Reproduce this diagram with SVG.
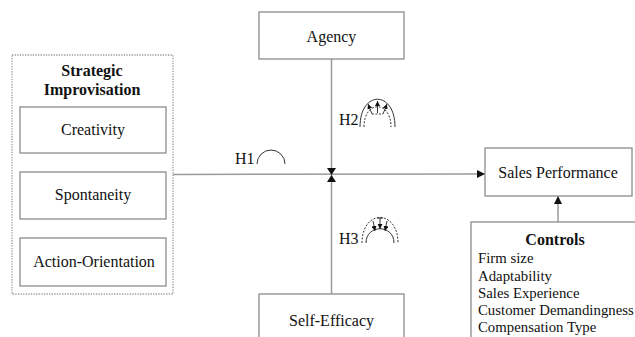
<svg xmlns="http://www.w3.org/2000/svg" width="635" height="337" viewBox="0 0 635 337" font-family="'Liberation Serif', 'Times New Roman', Tinos, 'DejaVu Serif', serif">
<defs>
<style>
.box{fill:#fff;stroke:#8c8c8c;stroke-width:1.3}
.dot{fill:none;stroke:#9a9a9a;stroke-width:1.3;stroke-dasharray:1.3 1.3}
.ln{fill:none;stroke:#9a9a9a;stroke-width:1.5}
text{font-family:'Liberation Serif','Times New Roman',Tinos,'DejaVu Serif',serif;font-size:16px;fill:#111}
.c{text-anchor:middle}
.b{font-weight:bold}
.s{font-size:14.8px}
.arc{fill:none;stroke:#333;stroke-width:1}
.dash{fill:none;stroke:#333;stroke-width:1;stroke-dasharray:2 1.5}
.sa{fill:none;stroke:#222;stroke-width:0.9}
</style>
<marker id="ah" viewBox="0 0 10 10" refX="10" refY="5" markerWidth="10" markerHeight="8" markerUnits="userSpaceOnUse" orient="auto"><path d="M0,0 L10,5 L0,10 z" fill="#111"/></marker>
<marker id="sm" viewBox="0 0 10 10" refX="10" refY="5" markerWidth="5" markerHeight="5" markerUnits="userSpaceOnUse" orient="auto"><path d="M0,0 L10,5 L0,10 z" fill="#111"/></marker>
</defs>

<g id="connectors">
<line class="ln" x1="331.5" y1="59" x2="331.5" y2="294"/>
<line class="ln" x1="173" y1="174.5" x2="485" y2="174" marker-end="url(#ah)"/>
<line class="ln" x1="558" y1="222" x2="558" y2="196" marker-end="url(#ah)"/>
<path d="M327,168 L336,168 L331.5,175 Z M327,182 L336,182 L331.5,175 Z" fill="#111"/>
</g>

<g id="strategic-improvisation">
<rect class="dot" x="12" y="55" width="161" height="239"/>
<text class="c b" x="92" y="76">Strategic</text>
<text class="c b" x="92" y="95">Improvisation</text>
</g>
<g id="creativity">
<rect class="box" x="20" y="107" width="146" height="46"/>
<text class="c" x="93" y="135">Creativity</text>
</g>
<g id="spontaneity">
<rect class="box" x="20" y="172" width="146" height="47"/>
<text class="c" x="93" y="200">Spontaneity</text>
</g>
<g id="action-orientation">
<rect class="box" x="20" y="238" width="146" height="48"/>
<text class="c" x="94" y="267">Action-Orientation</text>
</g>

<g id="agency">
<rect class="box" x="259" y="12" width="145" height="47"/>
<text class="c" x="331.5" y="42">Agency</text>
</g>

<g id="self-efficacy">
<rect class="box" x="259" y="294" width="145" height="50"/>
<text class="c" x="331.5" y="326">Self-Efficacy</text>
</g>

<g id="sales-performance">
<rect class="box" x="485" y="148" width="147" height="48"/>
<text class="c" x="558" y="178">Sales Performance</text>
</g>

<g id="controls">
<rect class="box" x="471" y="222" width="170" height="120"/>
<text class="c b" x="555" y="245">Controls</text>
<text class="s" x="478" y="263">Firm size</text>
<text class="s" x="478" y="281">Adaptability</text>
<text class="s" x="478" y="298">Sales Experience</text>
<text class="s" x="478" y="315">Customer Demandingness</text>
<text class="s" x="478" y="332">Compensation Type</text>
</g>

<g id="h1">
<text x="235" y="164">H1</text>
<path class="arc" d="M257,164 A14,14 0 0 1 285,164"/>
</g>

<g id="h2">
<text x="339" y="125">H2</text>
<path class="arc" d="M360,127 C360,90 395,90 395,127"/>
<path class="dash" d="M364,127 C364,100 391,100 391,127"/>
<line class="sa" x1="377.5" y1="113" x2="377.5" y2="101" marker-end="url(#sm)"/>
<line class="sa" x1="372" y1="114" x2="368" y2="104" marker-end="url(#sm)"/>
<line class="sa" x1="383" y1="114" x2="387" y2="104" marker-end="url(#sm)"/>
<line class="sa" x1="372" y1="114" x2="383" y2="114" stroke-dasharray="2 1.5"/>
</g>

<g id="h3">
<text x="339" y="244">H3</text>
<path class="dash" d="M362,243 C362,209 398,209 398,243"/>
<path class="arc" d="M366,243 C366,224 394,224 394,243"/>
<line class="sa" x1="380" y1="218" x2="380" y2="229" marker-end="url(#sm)"/>
<line class="sa" x1="377" y1="218" x2="383" y2="218"/>
<line class="sa" x1="373" y1="221" x2="375" y2="231" marker-end="url(#sm)"/>
<line class="sa" x1="387" y1="221" x2="385" y2="231" marker-end="url(#sm)"/>
</g>
</svg>
